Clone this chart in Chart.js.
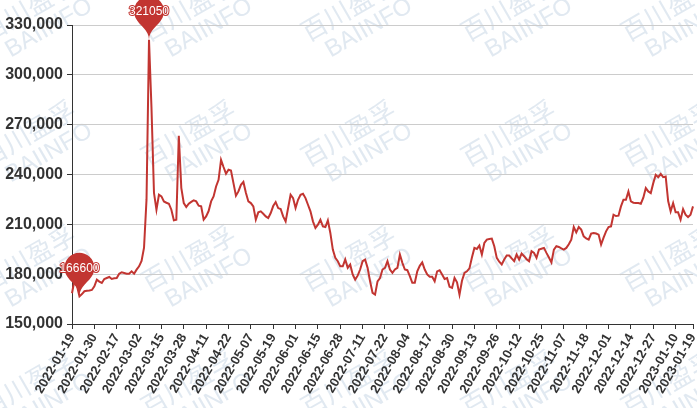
<!DOCTYPE html>
<html><head><meta charset="utf-8">
<script src="https://cdn.jsdelivr.net/npm/chart.js@4"></script>
<style>html,body{margin:0;padding:0;background:#fff}#wrap{width:697px;height:408px;position:relative}</style>
</head><body><div id="wrap"><canvas id="c" width="697" height="408"></canvas></div>
<script>
const dates = [
'2022-01-19','2022-01-20','2022-01-21','2022-01-24','2022-01-25','2022-01-26','2022-01-27','2022-01-28','2022-01-29','2022-01-30',
'2022-02-07','2022-02-08','2022-02-09','2022-02-10','2022-02-11','2022-02-14','2022-02-15','2022-02-16','2022-02-17','2022-02-18','2022-02-21','2022-02-22','2022-02-23','2022-02-24','2022-02-25','2022-02-28',
'2022-03-01','2022-03-02','2022-03-03','2022-03-04','2022-03-07','2022-03-08','2022-03-09','2022-03-10','2022-03-11','2022-03-14','2022-03-15','2022-03-16','2022-03-17','2022-03-18','2022-03-21','2022-03-22','2022-03-23','2022-03-24','2022-03-25','2022-03-28','2022-03-29','2022-03-30','2022-03-31',
'2022-04-01','2022-04-02','2022-04-06','2022-04-07','2022-04-08','2022-04-11','2022-04-12','2022-04-13','2022-04-14','2022-04-15','2022-04-18','2022-04-19','2022-04-20','2022-04-21','2022-04-22','2022-04-24','2022-04-25','2022-04-26','2022-04-27','2022-04-28','2022-04-29',
'2022-05-05','2022-05-06','2022-05-07','2022-05-09','2022-05-10','2022-05-11','2022-05-12','2022-05-13','2022-05-16','2022-05-17','2022-05-18','2022-05-19','2022-05-20','2022-05-23','2022-05-24','2022-05-25','2022-05-26','2022-05-27','2022-05-30','2022-05-31',
'2022-06-01','2022-06-02','2022-06-06','2022-06-07','2022-06-08','2022-06-09','2022-06-10','2022-06-13','2022-06-14','2022-06-15','2022-06-16','2022-06-17','2022-06-20','2022-06-21','2022-06-22','2022-06-23','2022-06-24','2022-06-27','2022-06-28','2022-06-29','2022-06-30',
'2022-07-01','2022-07-04','2022-07-05','2022-07-06','2022-07-07','2022-07-08','2022-07-11','2022-07-12','2022-07-13','2022-07-14','2022-07-15','2022-07-18','2022-07-19','2022-07-20','2022-07-21','2022-07-22','2022-07-25','2022-07-26','2022-07-27','2022-07-28','2022-07-29',
'2022-08-01','2022-08-02','2022-08-03','2022-08-04','2022-08-05','2022-08-08','2022-08-09','2022-08-10','2022-08-11','2022-08-12','2022-08-15','2022-08-16','2022-08-17','2022-08-18','2022-08-19','2022-08-22','2022-08-23','2022-08-24','2022-08-25','2022-08-26','2022-08-29','2022-08-30','2022-08-31',
'2022-09-01','2022-09-02','2022-09-05','2022-09-06','2022-09-07','2022-09-08','2022-09-09','2022-09-13','2022-09-14','2022-09-15','2022-09-16','2022-09-19','2022-09-20','2022-09-21','2022-09-22','2022-09-23','2022-09-26','2022-09-27','2022-09-28','2022-09-29','2022-09-30',
'2022-10-08','2022-10-09','2022-10-10','2022-10-11','2022-10-12','2022-10-13','2022-10-14','2022-10-17','2022-10-18','2022-10-19','2022-10-20','2022-10-21','2022-10-24','2022-10-25','2022-10-26','2022-10-27','2022-10-28','2022-10-31',
'2022-11-01','2022-11-02','2022-11-03','2022-11-04','2022-11-07','2022-11-08','2022-11-09','2022-11-10','2022-11-11','2022-11-14','2022-11-15','2022-11-16','2022-11-17','2022-11-18','2022-11-21','2022-11-22','2022-11-23','2022-11-24','2022-11-25','2022-11-28','2022-11-29','2022-11-30',
'2022-12-01','2022-12-02','2022-12-05','2022-12-06','2022-12-07','2022-12-08','2022-12-09','2022-12-12','2022-12-13','2022-12-14','2022-12-15','2022-12-16','2022-12-19','2022-12-20','2022-12-21','2022-12-22','2022-12-23','2022-12-26','2022-12-27','2022-12-28','2022-12-29','2022-12-30',
'2023-01-03','2023-01-04','2023-01-05','2023-01-06','2023-01-09','2023-01-10','2023-01-11','2023-01-12','2023-01-13','2023-01-16','2023-01-17','2023-01-18','2023-01-19'
];
const prices = [
168500,176500,173000,166600,168000,169700,170000,170200,170500,172700,
176700,175500,174700,177100,177700,178300,177100,177500,177700,180300,
181100,180700,180300,180300,181700,180300,182700,184700,188000,196000,
225000,321050,280000,229000,218800,227800,226800,223800,223000,222400,
218800,212400,212800,263300,232000,222800,220400,222400,223500,224400,
223800,221200,220800,212800,214800,218000,223800,226800,232800,236800,
248800,244500,240500,242900,242400,234800,227200,229800,233800,235500,
229000,223800,222800,220800,212800,217200,217800,216400,214800,213800,
216800,221000,223400,219800,219200,214800,211800,219800,227800,225800,
219800,224800,227800,228400,225800,221800,217800,211800,207800,209800,
212800,208800,208400,212400,204800,194800,189800,187800,184700,184700,
188800,183800,185800,179800,176700,179100,182800,187800,188800,183800,
175700,168700,167700,175700,177700,182800,183800,187800,182800,180800,
182800,183800,191800,186800,182800,182400,178800,174800,174800,181700,
185000,187100,182800,179800,178400,178400,175700,181700,182400,179800,
177100,177700,172400,171700,177700,175100,167700,176000,180800,181700,
183500,190000,195800,195200,197200,191800,198800,200800,201200,201400,
196800,189800,187500,185800,188800,191200,191200,189500,187800,191800,
188800,192400,190800,189000,187800,193800,192800,189800,194800,195300,
195800,192800,190000,187100,194800,196800,196400,195500,194800,195800,
198000,200800,208400,205200,208400,206800,202800,201500,200800,204400,
204800,204500,203800,197800,202000,205800,208400,208800,215800,215000,
215200,220800,224800,224800,229800,223800,223000,222800,222800,222400,
226000,231800,229800,228800,234800,239800,238400,240400,238400,238800,
224000,217800,222800,217200,217200,212800,219200,215800,214400,215800,
220800
];
const yMin = 150000, yMax = 330000, yStep = 30000;
const labelStep = 9;
const lineColor = '#c23531';
const wmCols = [35, 195, 355, 515, 675];
const wmRows = [20, 145, 270, 395];

function isLabel(i){ return i % labelStep === 0 || i === dates.length - 1; }

const watermark = {
  id: 'wm',
  beforeDraw(chart){
    const c = chart.ctx;
    c.save();
    c.fillStyle = '#fff';
    c.fillRect(0, 0, chart.width, chart.height);
    c.fillStyle = '#e1e9f1';
    c.textAlign = 'center';
    c.textBaseline = 'middle';
    for (const cx of wmCols) for (const cy of wmRows) {
      c.save();
      c.translate(cx, cy);
      c.rotate(-30 * Math.PI / 180);
      c.font = '26px "Noto Sans CJK SC"';
      c.fillText('百川盈孚', 0, -14);
      c.font = '24px "Liberation Sans", Arial';
      c.fillText('BAIINFO', 8, 14);
      c.restore();
    }
    c.restore();
  }
};

function pinPath(c, x, y, size){
  const w = size / 5 * 3, h = Math.max(w, size), r = w / 2;
  const dy = r * r / (h - r);
  const cy = y - h + r + dy;
  const angle = Math.asin(dy / r);
  const dx = Math.cos(angle) * r;
  const tanX = Math.sin(angle), tanY = Math.cos(angle);
  const cpLen = r * 0.6, cpLen2 = r * 0.7;
  c.beginPath();
  c.moveTo(x - dx, cy + dy);
  c.arc(x, cy, r, Math.PI - angle, Math.PI * 2 + angle);
  c.bezierCurveTo(x + dx - tanX * cpLen, cy + dy + tanY * cpLen, x, y - cpLen2, x, y);
  c.bezierCurveTo(x, y - cpLen2, x - dx + tanX * cpLen, cy + dy + tanY * cpLen, x - dx, cy + dy);
  c.closePath();
  return cy;
}

const pins = {
  id: 'pins',
  afterDatasetsDraw(chart){
    const c = chart.ctx, xs = chart.scales.x, ys = chart.scales.y;
    const maxV = Math.max(...prices), minV = Math.min(...prices);
    [prices.indexOf(maxV), prices.indexOf(minV)].forEach(i => {
      const x = xs.getPixelForValue(i), y = ys.getPixelForValue(prices[i]);
      c.save();
      pinPath(c, x, y, 50);
      c.fillStyle = lineColor;
      c.fill();
      c.font = '12px "Liberation Sans", Arial';
      c.textAlign = 'center';
      c.textBaseline = 'middle';
      c.lineWidth = 2;
      c.lineJoin = 'round';
      c.strokeStyle = lineColor;
      c.strokeText(String(prices[i]), x, y - 28);
      c.fillStyle = '#fff';
      c.fillText(String(prices[i]), x, y - 28);
      c.restore();
    });
  }
};

new Chart(document.getElementById('c'), {
  type: 'line',
  data: { labels: dates, datasets: [{ data: prices, borderColor: lineColor, borderWidth: 2, pointRadius: 0, tension: 0, fill: false }] },
  options: {
    responsive: false, animation: false,
    plugins: { legend: { display: false }, tooltip: { enabled: false } },
    layout: { padding: { top: 25, right: 4, left: 0, bottom: 0 } },
    scales: {
      x: {
        type: 'category', offset: false,
        grid: { display: true, drawOnChartArea: false, drawTicks: true, tickLength: 5,
          color: ctx => isLabel(ctx.index) ? '#333' : 'rgba(0,0,0,0)',
          tickColor: ctx => isLabel(ctx.index) ? '#333' : 'rgba(0,0,0,0)' },
        border: { color: '#333', width: 1 },
        ticks: { autoSkip: false, maxRotation: 60, minRotation: 60, color: '#333', padding: 2,
          font: { family: '"Liberation Sans", Arial', size: 13, weight: 'bold' },
          callback: (v, i) => isLabel(i) ? dates[i] : '' },
        afterFit(s){ s.height = 84; s.paddingRight = 0; s.paddingLeft = 0; }
      },
      y: {
        min: yMin, max: yMax,
        ticks: { stepSize: yStep, color: '#333', padding: 4,
          font: { family: '"Liberation Sans", Arial', size: 16, weight: 'bold' },
          callback: v => v.toLocaleString('en-US') },
        grid: { color: '#ccc', tickColor: '#333', tickLength: 5 },
        border: { color: '#333', width: 1 },
        afterFit(s){ s.width = 72; }
      }
    }
  },
  plugins: [watermark, pins]
});
</script></body></html>
